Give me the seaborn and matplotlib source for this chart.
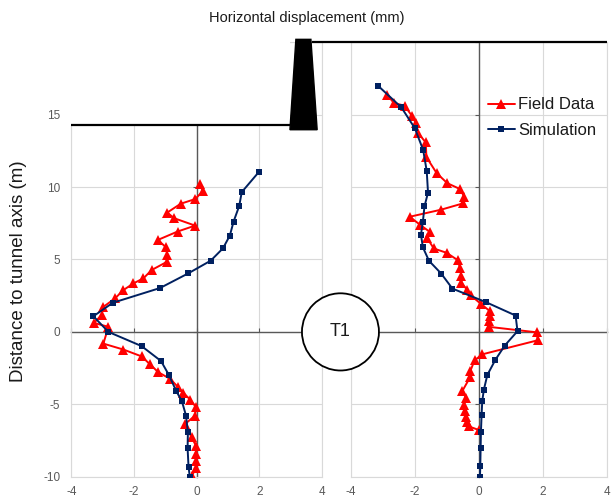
import matplotlib
matplotlib.use("Agg")
import matplotlib.pyplot as plt
from matplotlib.patches import Rectangle, Polygon, Ellipse
import seaborn as sns

# ---- inclinometer readings: left of the tunnel ----
left_field_x = [0.11, 0.19, -0.05, -0.51, -0.94, -0.72, -0.05, -0.61, -1.24, -0.98,
                -0.94, -0.94, -1.44, -1.70, -2.02, -2.34, -2.61, -2.98, -3.04, -3.28,
                -2.82, -2.98, -2.34, -1.76, -1.49, -1.23, -0.85, -0.59, -0.43, -0.21,
                -0.02, -0.05, -0.37, -0.16, -0.02, -0.02, -0.02, -0.02, -0.16]
left_field_y = [10.23, 9.70, 9.17, 8.85, 8.24, 7.85, 7.34, 6.93, 6.35, 5.84,
                5.31, 4.85, 4.27, 3.70, 3.35, 2.89, 2.31, 1.73, 1.16, 0.62,
                0.35, -0.81, -1.22, -1.69, -2.24, -2.78, -3.24, -3.82, -4.20, -4.67,
                -5.20, -5.78, -6.36, -7.29, -7.87, -8.44, -8.91, -9.42, -9.95]
left_sim_x = [1.99, 1.44, 1.36, 1.18, 1.06, 0.84, 0.45, -0.27, -1.17, -2.68, -3.30,
              -2.82, -1.76, -1.14, -0.88, -0.66, -0.47, -0.34, -0.28, -0.29, -0.26, -0.22]
left_sim_y = [11.05, 9.65, 8.70, 7.62, 6.65, 5.77, 4.92, 4.04, 3.03, 2.01, 1.08,
              0.00, -0.98, -2.01, -3.00, -4.05, -4.80, -5.78, -6.92, -8.03, -9.30, -10.00]

# ---- inclinometer readings: right of the tunnel ----
right_field_x = [-2.86, -2.65, -2.32, -2.08, -1.97, -1.90, -1.66, -1.64, -1.32, -0.99,
                 -0.58, -0.47, -0.49, -1.18, -2.16, -1.84, -1.52, -1.61, -1.41, -1.01,
                 -0.66, -0.59, -0.55, -0.55, -0.36, -0.26, 0.05, 0.34, 0.34, 0.31,
                 0.31, 1.80, 1.83, 0.10, -0.14, -0.27, -0.27, -0.52, -0.41, -0.47,
                 -0.44, -0.41, -0.36, -0.32, 0.00]
right_field_y = [16.35, 15.80, 15.62, 14.88, 14.42, 13.73, 13.08, 12.07, 10.96, 10.27,
                 9.85, 9.34, 8.88, 8.44, 7.95, 7.40, 6.88, 6.45, 5.76, 5.46,
                 4.95, 4.38, 3.85, 3.39, 2.88, 2.53, 1.95, 1.43, 1.08, 0.76,
                 0.35, -0.03, -0.58, -1.55, -1.97, -2.70, -3.10, -4.08, -4.55, -5.08,
                 -5.45, -5.85, -6.20, -6.52, -6.78]
right_sim_x = [-3.15, -2.42, -2.00, -1.74, -1.63, -1.59, -1.70, -1.75, -1.81, -1.75,
               -1.56, -1.18, -0.83, 0.21, 1.14, 1.20, 0.80, 0.51, 0.26, 0.15,
               0.10, 0.08, 0.06, 0.05, 0.04, 0.03]
right_sim_y = [17.00, 15.50, 14.06, 12.55, 11.10, 9.62, 8.67, 7.61, 6.71, 5.84,
               4.91, 4.03, 2.99, 2.06, 1.13, 0.05, -0.95, -1.93, -2.97, -4.00,
               -4.80, -5.76, -6.90, -8.04, -9.26, -10.00]

series_names = ["Field Data", "Simulation"]
x_ticks = [-4, -2, 0, 2, 4]
y_ticks = [-10, -5, 0, 5, 10, 15, 20]
y_tick_labels = ["-10", "-5", "0", "5", "10", "15", ""]
title_text = "Horizontal displacement (mm)"
ylabel_text = "Distance to tunnel axis (m)"
tunnel_label = "T1"

RED = "#ff0000"
NAVY = "#002060"
GRID = "#d9d9d9"
AXIS = "#595959"
TICK_TXT = "#595959"

sns.set_theme(style="white")
plt.rcParams["font.family"] = ["Liberation Sans", "DejaVu Sans"]
plt.rcParams["axes.unicode_minus"] = False

fig = plt.figure(figsize=(6.14, 4.97), dpi=100)
ax_l = fig.add_axes([0.1164, 0.0408, 0.4078, 0.8742])
ax_r = fig.add_axes([0.5712, 0.0408, 0.4179, 0.8742])


def draw_panel(ax, fx, fy, sx, sy):
    ax.set_xlim(-4, 4)
    ax.set_ylim(-10, 20)
    ax.set_xticks(x_ticks)
    ax.set_yticks(y_ticks)
    ax.grid(True, color=GRID, lw=0.8)
    ax.set_axisbelow(True)
    for sp in ax.spines.values():
        sp.set_color(GRID)
        sp.set_linewidth(0.8)
    ax.tick_params(length=0, labelsize=8.5, labelcolor=TICK_TXT)
    ax.tick_params(axis="x", pad=6.5)
    ax.tick_params(axis="y", pad=8)

    sns.lineplot(x=fx, y=fy, sort=False, estimator=None, ax=ax, color=RED,
                 marker="^", markersize=7, markeredgewidth=0, lw=1.4,
                 label=series_names[0], zorder=3)
    sns.lineplot(x=sx, y=sy, sort=False, estimator=None, ax=ax, color=NAVY,
                 marker="s", markersize=5, markeredgewidth=0, lw=1.4,
                 label=series_names[1], zorder=4)
    if ax.get_legend() is not None:
        ax.get_legend().remove()

    # crossing axes through the origin
    y0 = (0 - ax.get_ylim()[0]) / (ax.get_ylim()[1] - ax.get_ylim()[0])
    secx = ax.secondary_xaxis(y0)
    secx.set_ticks(x_ticks)
    secx.tick_params(axis="x", direction="in", length=3, width=0.8, color=AXIS,
                     labelbottom=False, labeltop=False)
    for sp in secx.spines.values():
        sp.set_color(AXIS)
        sp.set_linewidth(1.0)
    secx.set_zorder(1.5)

    secy = ax.secondary_yaxis(0.5)
    secy.set_alignment("left")
    secy.set_ticks(y_ticks)
    secy.tick_params(axis="y", direction="out", length=3, width=0.8, color=AXIS,
                     labelleft=False, labelright=False)
    for sp in secy.spines.values():
        sp.set_color(AXIS)
        sp.set_linewidth(1.0)
    secy.set_zorder(1.5)


draw_panel(ax_l, left_field_x, left_field_y, left_sim_x, left_sim_y)
draw_panel(ax_r, right_field_x, right_field_y, right_sim_x, right_sim_y)

ax_l.set_yticklabels(y_tick_labels)
ax_r.tick_params(axis="y", labelleft=False)

# ground surface on the left side, wall and ground surface on the right side
ground_left = 14.3
wall_foot = 2.98
ax_l.add_patch(Rectangle((-4.1, ground_left), wall_foot + 4.1, 20.4 - ground_left,
                         facecolor="white", edgecolor="none", zorder=5, clip_on=False))
ax_l.hlines(ground_left, -4, wall_foot, color="black", lw=1.6, zorder=6, clip_on=False)
ax_l.add_patch(Polygon([(2.98, 13.96), (3.85, 13.96), (3.65, 20.2), (3.17, 20.2)],
                       closed=True, facecolor="black", edgecolor="black",
                       zorder=7, clip_on=False))
ax_r.hlines(20, -5.21, 4, color="black", lw=1.6, zorder=6, clip_on=False)

# tunnel cross-section
ax_r.add_patch(Ellipse((-4.32, 0), 2.40, 5.33, facecolor="white", edgecolor="black",
                       lw=1.3, zorder=8, clip_on=False))
ax_r.text(-4.32, 0, tunnel_label, ha="center", va="center", fontsize=13,
          color="#1a1a1a", zorder=9, clip_on=False)

handles, labels = ax_r.get_legend_handles_labels()
ax_r.legend(handles, labels, loc="center left", bbox_to_anchor=(0.535, 0.826),
            frameon=False, fontsize=12, handlelength=1.6, handletextpad=0.2,
            borderaxespad=0, borderpad=0, labelspacing=0.65, labelcolor="#1a1a1a")

fig.text(0.5, 0.964, title_text, ha="center", va="center", fontsize=10.5,
         color="#1a1a1a")
fig.text(0.03, 0.455, ylabel_text, ha="center", va="center", rotation=90,
         fontsize=13.5, color="#1a1a1a")

fig.savefig("out.png", dpi=100)
